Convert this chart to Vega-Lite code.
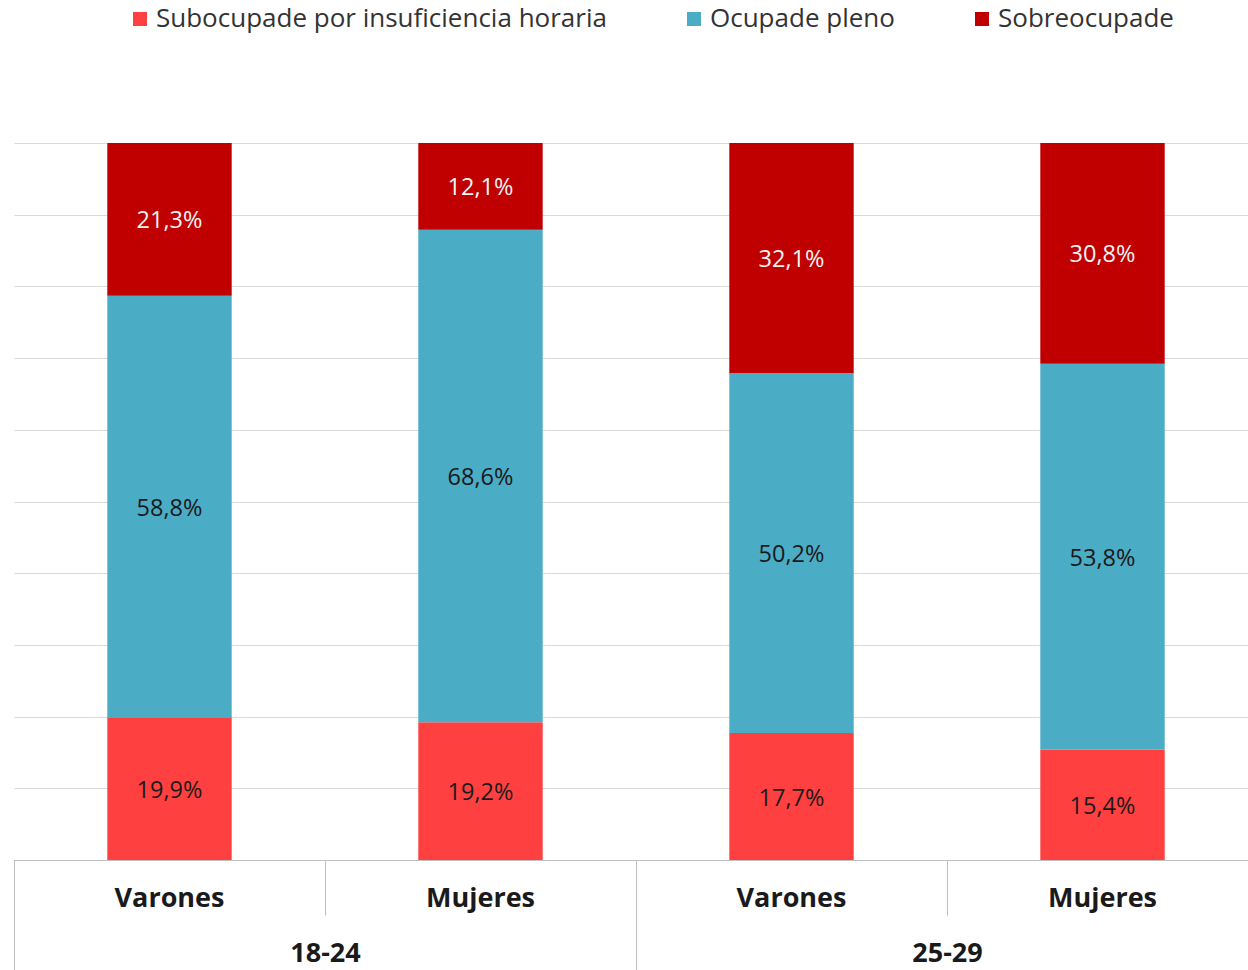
{
  "$schema": "https://vega.github.io/schema/vega-lite/v6.json",
  "width": 1234,
  "height": 717,
  "autosize": {"type": "none"},
  "padding": {"left": 14, "top": 143, "right": 0, "bottom": 110},
  "background": "white",
  "config": {
    "locale": {"number": {"decimal": ",", "thousands": ".", "grouping": [3], "currency": ["", " €"]}},
    "font": "Open Sans",
    "view": {"stroke": null},
    "legend": {
      "orient": "none",
      "legendX": 113,
      "legendY": -137,
      "direction": "horizontal",
      "title": null,
      "symbolType": "square",
      "symbolSize": 196,
      "symbolStrokeWidth": 0,
      "labelFont": "Open Sans",
      "labelFontSize": 26,
      "labelColor": "#333333",
      "labelOffset": 3,
      "columnPadding": 74,
      "labelLimit": 600,
      "padding": 0
    }
  },
  "data": {
    "values": [
      {"key": "18-24 Varones", "grupo": "18-24", "sexo": "Varones", "tipo": "Subocupade por insuficiencia horaria", "orden": 1, "valor": 0.199},
      {"key": "18-24 Varones", "grupo": "18-24", "sexo": "Varones", "tipo": "Ocupade pleno", "orden": 2, "valor": 0.588},
      {"key": "18-24 Varones", "grupo": "18-24", "sexo": "Varones", "tipo": "Sobreocupade", "orden": 3, "valor": 0.213},
      {"key": "18-24 Mujeres", "grupo": "18-24", "sexo": "Mujeres", "tipo": "Subocupade por insuficiencia horaria", "orden": 1, "valor": 0.192},
      {"key": "18-24 Mujeres", "grupo": "18-24", "sexo": "Mujeres", "tipo": "Ocupade pleno", "orden": 2, "valor": 0.686},
      {"key": "18-24 Mujeres", "grupo": "18-24", "sexo": "Mujeres", "tipo": "Sobreocupade", "orden": 3, "valor": 0.121},
      {"key": "25-29 Varones", "grupo": "25-29", "sexo": "Varones", "tipo": "Subocupade por insuficiencia horaria", "orden": 1, "valor": 0.177},
      {"key": "25-29 Varones", "grupo": "25-29", "sexo": "Varones", "tipo": "Ocupade pleno", "orden": 2, "valor": 0.502},
      {"key": "25-29 Varones", "grupo": "25-29", "sexo": "Varones", "tipo": "Sobreocupade", "orden": 3, "valor": 0.321},
      {"key": "25-29 Mujeres", "grupo": "25-29", "sexo": "Mujeres", "tipo": "Subocupade por insuficiencia horaria", "orden": 1, "valor": 0.154},
      {"key": "25-29 Mujeres", "grupo": "25-29", "sexo": "Mujeres", "tipo": "Ocupade pleno", "orden": 2, "valor": 0.538},
      {"key": "25-29 Mujeres", "grupo": "25-29", "sexo": "Mujeres", "tipo": "Sobreocupade", "orden": 3, "valor": 0.308}
    ]
  },
  "layer": [
    {
      "encoding": {
        "x": {
          "field": "key",
          "type": "nominal",
          "sort": ["18-24 Varones", "18-24 Mujeres", "25-29 Varones", "25-29 Mujeres"],
          "scale": {"range": [0, 1244], "paddingInner": 0.6, "paddingOuter": 0.3},
          "axis": {
            "title": null,
            "orient": "bottom",
            "labelExpr": "split(datum.label, ' ')[1]",
            "labelAngle": 0,
            "labelFont": "Open Sans",
            "labelFontSize": 27,
            "labelFontWeight": "bold",
            "labelColor": "#1a1a1a",
            "labelPadding": 25,
            "ticks": false,
            "domainColor": "#bfbfbf",
            "domainWidth": 1,
            "grid": false
          }
        },
        "y": {
          "field": "valor",
          "type": "quantitative",
          "stack": "normalize",
          "scale": {"domain": [0, 1]},
          "axis": {
            "title": null,
            "values": [0, 0.1, 0.2, 0.3, 0.4, 0.5, 0.6, 0.7, 0.8, 0.9, 1],
            "labels": false,
            "ticks": false,
            "domain": false,
            "grid": true,
            "gridColor": "#d9d9d9",
            "gridWidth": 1
          }
        },
        "order": {"field": "orden", "type": "quantitative"}
      },
      "layer": [
        {
          "mark": {"type": "bar"},
          "encoding": {
            "color": {
              "field": "tipo",
              "type": "nominal",
              "scale": {
                "domain": ["Subocupade por insuficiencia horaria", "Ocupade pleno", "Sobreocupade"],
                "range": ["#ff4040", "#4bacc6", "#c00000"]
              }
            }
          }
        },
        {
          "mark": {"type": "text", "font": "Open Sans", "fontSize": 23.5, "baseline": "middle", "align": "center", "dy": 2},
          "encoding": {
            "y": {"field": "valor", "type": "quantitative", "stack": "normalize", "bandPosition": 0.5},
            "text": {"field": "valor", "type": "quantitative", "format": ".1%"},
            "color": {
              "condition": {"test": "datum.tipo === 'Sobreocupade'", "value": "#f2f2f2"},
              "value": "#1a1a1a"
            }
          }
        }
      ]
    },
    {
      "mark": {"type": "text", "text": ""},
      "encoding": {
        "x": {
          "field": "key",
          "type": "nominal",
          "sort": ["18-24 Varones", "18-24 Mujeres", "25-29 Varones", "25-29 Mujeres"],
          "scale": {"type": "band", "range": [0, 1244], "paddingInner": 0, "paddingOuter": 0},
          "axis": {
            "title": null,
            "orient": "bottom",
            "labels": false,
            "bandPosition": 0,
            "tickSize": 55,
            "tickColor": "#bfbfbf",
            "tickWidth": 1,
            "domain": false,
            "grid": false
          }
        }
      }
    },
    {
      "mark": {"type": "text", "text": ""},
      "encoding": {
        "x": {
          "field": "grupo",
          "type": "nominal",
          "scale": {"range": [0, 1244], "paddingInner": 0, "paddingOuter": 0},
          "axis": {
            "title": null,
            "orient": "bottom",
            "labelAngle": 0,
            "labelFont": "Open Sans",
            "labelFontSize": 27,
            "labelFontWeight": "bold",
            "labelColor": "#1a1a1a",
            "labelPadding": -30,
            "tickBand": "extent",
            "tickSize": 110,
            "tickColor": "#bfbfbf",
            "tickWidth": 1,
            "domain": false,
            "grid": false
          }
        }
      }
    }
  ],
  "resolve": {"scale": {"x": "independent"}, "axis": {"x": "independent"}}
}
